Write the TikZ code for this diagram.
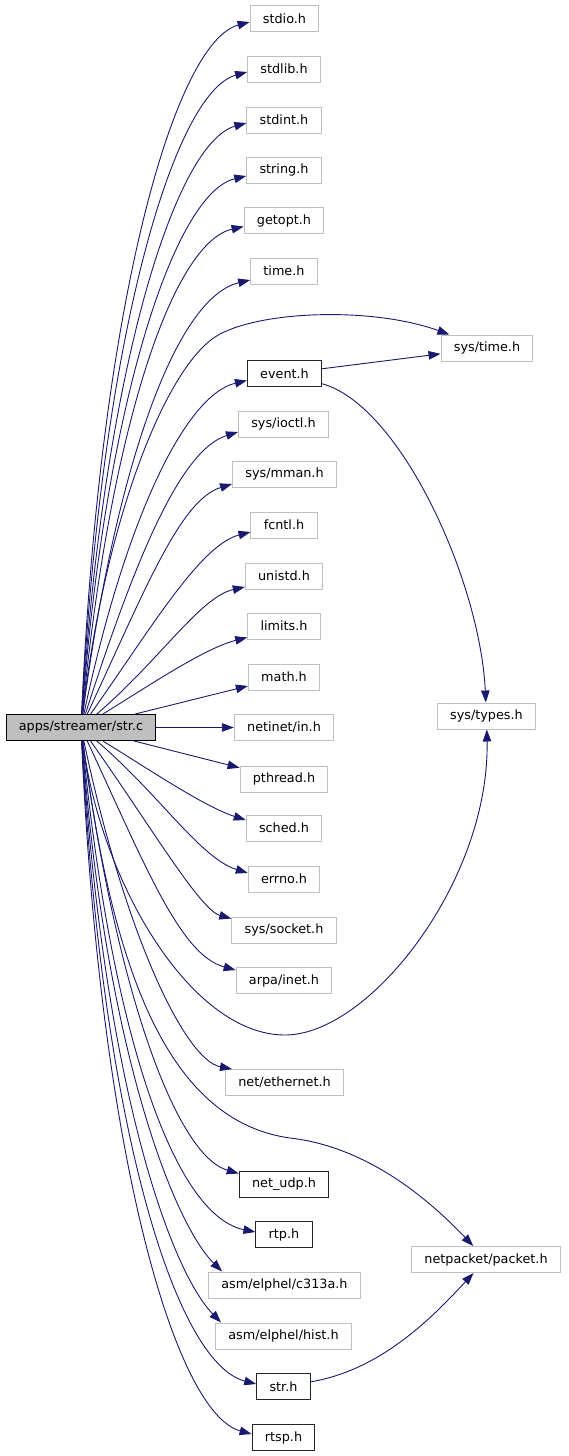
\documentclass[tikz,border=0pt]{standalone}
\usepackage{fontspec}
\setmainfont{DejaVu Sans}
\usetikzlibrary{arrows.meta}
\definecolor{edgeblue}{HTML}{191970}
\definecolor{boxgray}{HTML}{BFBFBF}

\begin{document}
\begin{tikzpicture}[x=1pt, y=-1pt,
  file/.style={draw, line width=1pt, minimum height=26pt, inner xsep=12.8pt, inner ysep=0pt,
    font=\fontsize{12.8}{15}\selectfont, fill=white},
  inc/.style={file, draw=boxgray},
  doc/.style={file, draw=black!85},
  dep/.style={draw=edgeblue, line width=0.9pt, -{Triangle[length=12pt,width=8.5pt]}}]
\useasboundingbox[fill=white] (0,0) rectangle (568,1456);

% Source file
\node[file, draw=black, fill=boxgray] (strc) at (81,727.5) {apps/streamer/str.c};

% Included headers
\node[inc] (stdio) at (284.5,18.5) {stdio.h};
\node[inc] (stdlib) at (284,69) {stdlib.h};
\node[inc] (stdint) at (284,120) {stdint.h};
\node[inc] (string) at (284,170) {string.h};
\node[inc] (getopt) at (284,220.5) {getopt.h};
\node[inc] (time) at (284,271) {time.h};
\node[doc] (event) at (284.5,373.5) {event.h};
\node[inc] (ioctl) at (283.5,424) {sys/ioctl.h};
\node[inc] (mman) at (284.5,474) {sys/mman.h};
\node[inc] (fcntl) at (284,525) {fcntl.h};
\node[inc] (unistd) at (284,576) {unistd.h};
\node[inc] (limits) at (284,626) {limits.h};
\node[inc] (math) at (284,677) {math.h};
\node[inc] (netinet) at (284,727.5) {netinet/in.h};
\node[inc] (pthread) at (284,779) {pthread.h};
\node[inc] (sched) at (284,828) {sched.h};
\node[inc] (errno) at (284,879) {errno.h};
\node[inc] (socket) at (284,930) {sys/socket.h};
\node[inc] (inet) at (284,980.5) {arpa/inet.h};
\node[inc] (ethernet) at (284.5,1082.5) {net/ethernet.h};
\node[doc] (netudp) at (284,1184) {net\_udp.h};
\node[doc] (rtp) at (284,1234.5) {rtp.h};
\node[inc] (c313a) at (284.5,1285) {asm/elphel/c313a.h};
\node[inc] (hist) at (283.5,1336) {asm/elphel/hist.h};
\node[doc] (strh) at (283.5,1386.5) {str.h};
\node[doc] (rtsp) at (283.5,1437.5) {rtsp.h};

% Second level
\node[inc] (systime) at (487,348) {sys/time.h};
\node[inc] (systypes) at (486.5,716) {sys/types.h};
\node[inc] (netpacket) at (486,1259.5) {netpacket/packet.h};

% Edges going up
\draw[dep] (strc) .. controls (100,300) and (175,42) .. ([yshift=-3.5pt]stdio.west);
\draw[dep] (strc) .. controls (102,330) and (175,92) .. ([yshift=-3pt]stdlib.west);
\draw[dep] (strc) .. controls (104,370) and (175,143) .. ([yshift=-3pt]stdint.west);
\draw[dep] (strc) .. controls (106,400) and (175,193) .. ([yshift=-6pt]string.west);
\draw[dep] (strc) .. controls (110,430) and (172,243) .. ([yshift=-6pt]getopt.west);
\draw[dep] (strc) .. controls (115,470) and (175,298) .. ([yshift=-9pt]time.west);
\draw[dep] (strc) .. controls (105,520) and (165,370) .. (215,337)
  .. controls (255,311) and (370,306) .. (systime);
\draw[dep] (strc) .. controls (125,520) and (185,395) .. ([yshift=-7pt]event.west);
\draw[dep] (strc) .. controls (135,560) and (180,450) .. ([yshift=-8pt]ioctl.west);
\draw[dep] (strc) .. controls (145,590) and (180,500) .. ([yshift=-10pt]mman.west);
\draw[dep] (strc) .. controls (150,630) and (200,545) .. ([yshift=-7pt]fcntl.west);
\draw[dep] (strc) .. controls (160,660) and (200,597) .. ([yshift=-11pt]unistd.west);
\draw[dep] (strc) .. controls (150,685) and (205,648) .. ([yshift=-11.5pt]limits.west);
\draw[dep] (strc) -- (math);
\draw[dep] (strc) -- (netinet);

% Edges going down
\draw[dep] (strc) -- (pthread);
\draw[dep] (strc) .. controls (150,770) and (205,807) .. ([yshift=8pt]sched.west);
\draw[dep] (strc) .. controls (160,795) and (200,858) .. ([yshift=6pt]errno.west);
\draw[dep] (strc) .. controls (150,825) and (200,910) .. ([yshift=-2pt]socket.north west);
\draw[dep] (strc) .. controls (145,865) and (180,955) .. ([yshift=-3pt]inet.north west);
\draw[dep] (strc) .. controls (100,880) and (190,1035) .. (285,1035)
  .. controls (370,1035) and (490,880) .. (systypes);
\draw[dep] (strc) .. controls (125,935) and (185,1060) .. ([xshift=7pt]ethernet.north west);
\draw[dep] (strc) .. controls (110,950) and (160,1120) .. (290,1138)
  .. controls (360,1146) and (420,1190) .. (netpacket);
\draw[dep] (strc) .. controls (115,985) and (175,1155) .. ([yshift=-3pt]netudp.north west);
\draw[dep] (strc) .. controls (110,1025) and (172,1215) .. ([yshift=2.5pt]rtp.west);
\draw[dep] (strc) .. controls (106,1055) and (175,1225) .. ([xshift=14pt]c313a.north west);
\draw[dep] (strc) .. controls (104,1085) and (170,1270) .. ([xshift=6pt]hist.north west);
\draw[dep] (strc) .. controls (102,1125) and (175,1363) .. ([yshift=2.5pt]strh.west);
\draw[dep] (strc) .. controls (100,1155) and (175,1413) .. ([yshift=3.5pt]rtsp.west);

% Second level edges
\draw[dep] (event) -- (systime);
\draw[dep] (event) .. controls (400,405) and (480,580) .. (systypes);
\draw[dep] (strh) .. controls (380,1370) and (430,1320) .. (netpacket);

\end{tikzpicture}
\end{document}
